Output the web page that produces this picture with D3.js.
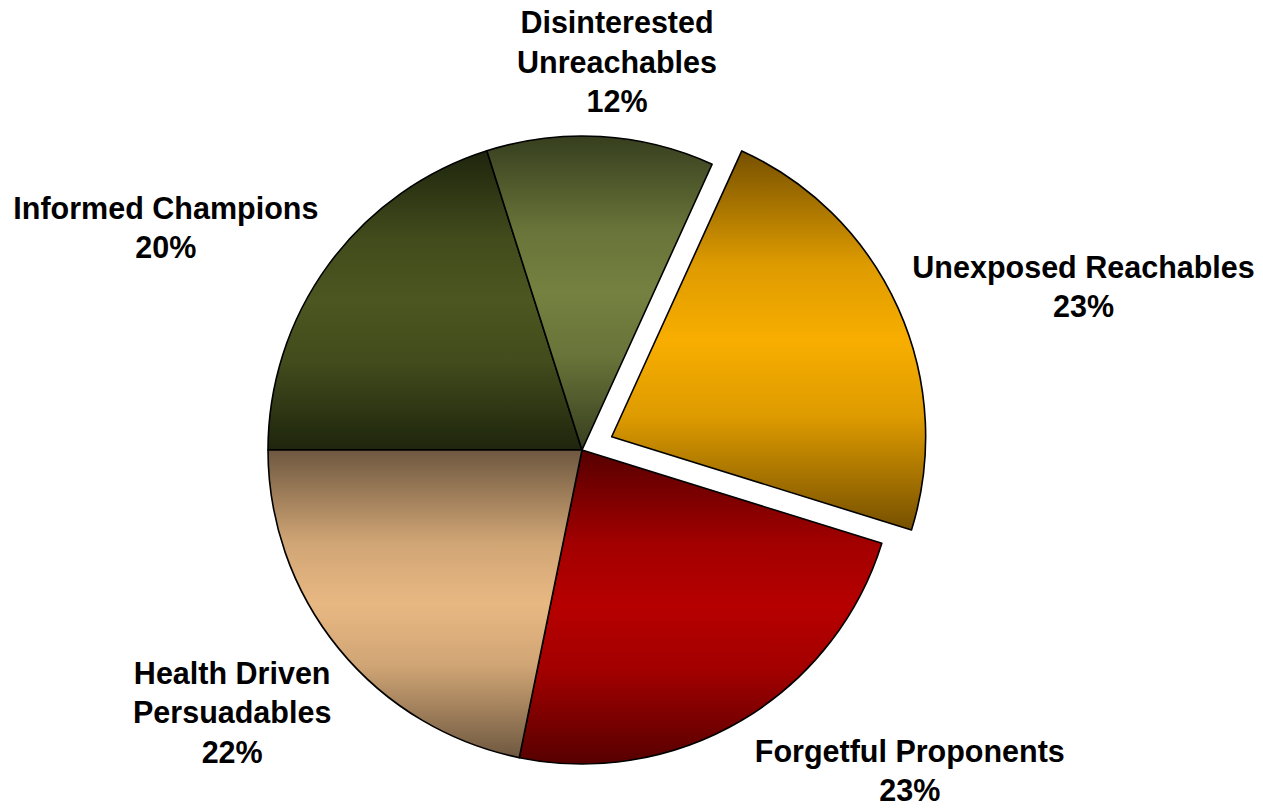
<!DOCTYPE html>
<html>
<head>
<meta charset="utf-8">
<script src="https://cdn.jsdelivr.net/npm/d3@7"></script>
<style>
  html, body { margin: 0; padding: 0; background: #ffffff; }
  svg { display: block; }
  text { font-family: "Liberation Sans", Arial, sans-serif; font-weight: bold; fill: #000; }
</style>
</head>
<body>
<svg id="chart" width="1263" height="808"></svg>
<script>
// ---- data ----
const categories = ["Informed Champions", "Disinterested Unreachables", "Unexposed Reachables", "Forgetful Proponents", "Health Driven Persuadables"];
const values = [20.1, 11.7, 23.0, 23.4, 21.8];
const labelLines = [["Informed Champions"], ["Disinterested", "Unreachables"], ["Unexposed Reachables"], ["Forgetful Proponents"], ["Health Driven", "Persuadables"]];
const exploded = [false, false, true, false, false];
const darkColors = ["#1e250d", "#363e1e", "#765000", "#560000", "#6e5840"];
const lightColors = ["#4b5620", "#748140", "#f8ae00", "#b60000", "#e8b882"];

// ---- layout ----
const W = 1263, H = 808;
const cx = 582, cy = 450, r = 314;
const explodeDist = 32.5;
const fontSize = 30.5, lineGap = 39.5;
const labelRadius = r * 1.2;
const labelNudge = [[-112, 0], [12.5, -12], [128, 4], [136, -3.5], [-58, 24]];

const svg = d3.select("#chart");
const defs = svg.append("defs");

const rows = categories.map((c, i) => ({ name: c, value: values[i], i }));
const total = d3.sum(values);

const pie = d3.pie().sort(null).value(d => d.value)
  .startAngle(-Math.PI / 2).endAngle(3 * Math.PI / 2);
const arcs = pie(rows);
const arc = d3.arc().innerRadius(0).outerRadius(r);

rows.forEach((d, i) => {
  const g = defs.append("linearGradient").attr("id", "grad" + i)
    .attr("x1", 0).attr("y1", 0).attr("x2", 0).attr("y2", 1);
  const mix = d3.interpolateRgb(darkColors[i], lightColors[i]);
  [[0, 0], [0.3, 0.8], [0.5, 1], [0.7, 0.8], [1, 0]].forEach(([o, t]) => {
    g.append("stop").attr("offset", o).attr("stop-color", mix(t));
  });
});

function offsetOf(a, i) {
  if (!exploded[i]) return [0, 0];
  const mid = (a.startAngle + a.endAngle) / 2;
  return [Math.sin(mid) * explodeDist, -Math.cos(mid) * explodeDist];
}

const gPie = svg.append("g").attr("transform", `translate(${cx},${cy})`);
gPie.selectAll("path.slice").data(arcs).enter().append("path")
  .attr("class", "slice")
  .attr("d", arc)
  .attr("transform", (a, i) => { const o = offsetOf(a, i); return `translate(${o[0]},${o[1]})`; })
  .attr("fill", (a, i) => `url(#grad${i})`)
  .attr("stroke", "#000")
  .attr("stroke-width", 1.6)
  .attr("stroke-linejoin", "round");

// ---- labels ----
const gLab = svg.append("g").attr("transform", `translate(${cx},${cy})`);
arcs.forEach((a, i) => {
  const mid = (a.startAngle + a.endAngle) / 2;
  const o = offsetOf(a, i);
  const bx = o[0] + Math.sin(mid) * labelRadius + labelNudge[i][0];
  const by = o[1] - Math.cos(mid) * labelRadius + labelNudge[i][1];
  const lines = labelLines[i].concat([Math.round(a.data.value / total * 100) + "%"]);
  const n = lines.length;
  const firstBase = by - (n - 1) * lineGap / 2 + fontSize * 0.358;
  const t = gLab.append("text").attr("text-anchor", "middle").attr("font-size", fontSize);
  lines.forEach((ln, k) => {
    t.append("tspan").attr("x", bx).attr("y", firstBase + k * lineGap).text(ln);
  });
});
</script>
</body>
</html>
